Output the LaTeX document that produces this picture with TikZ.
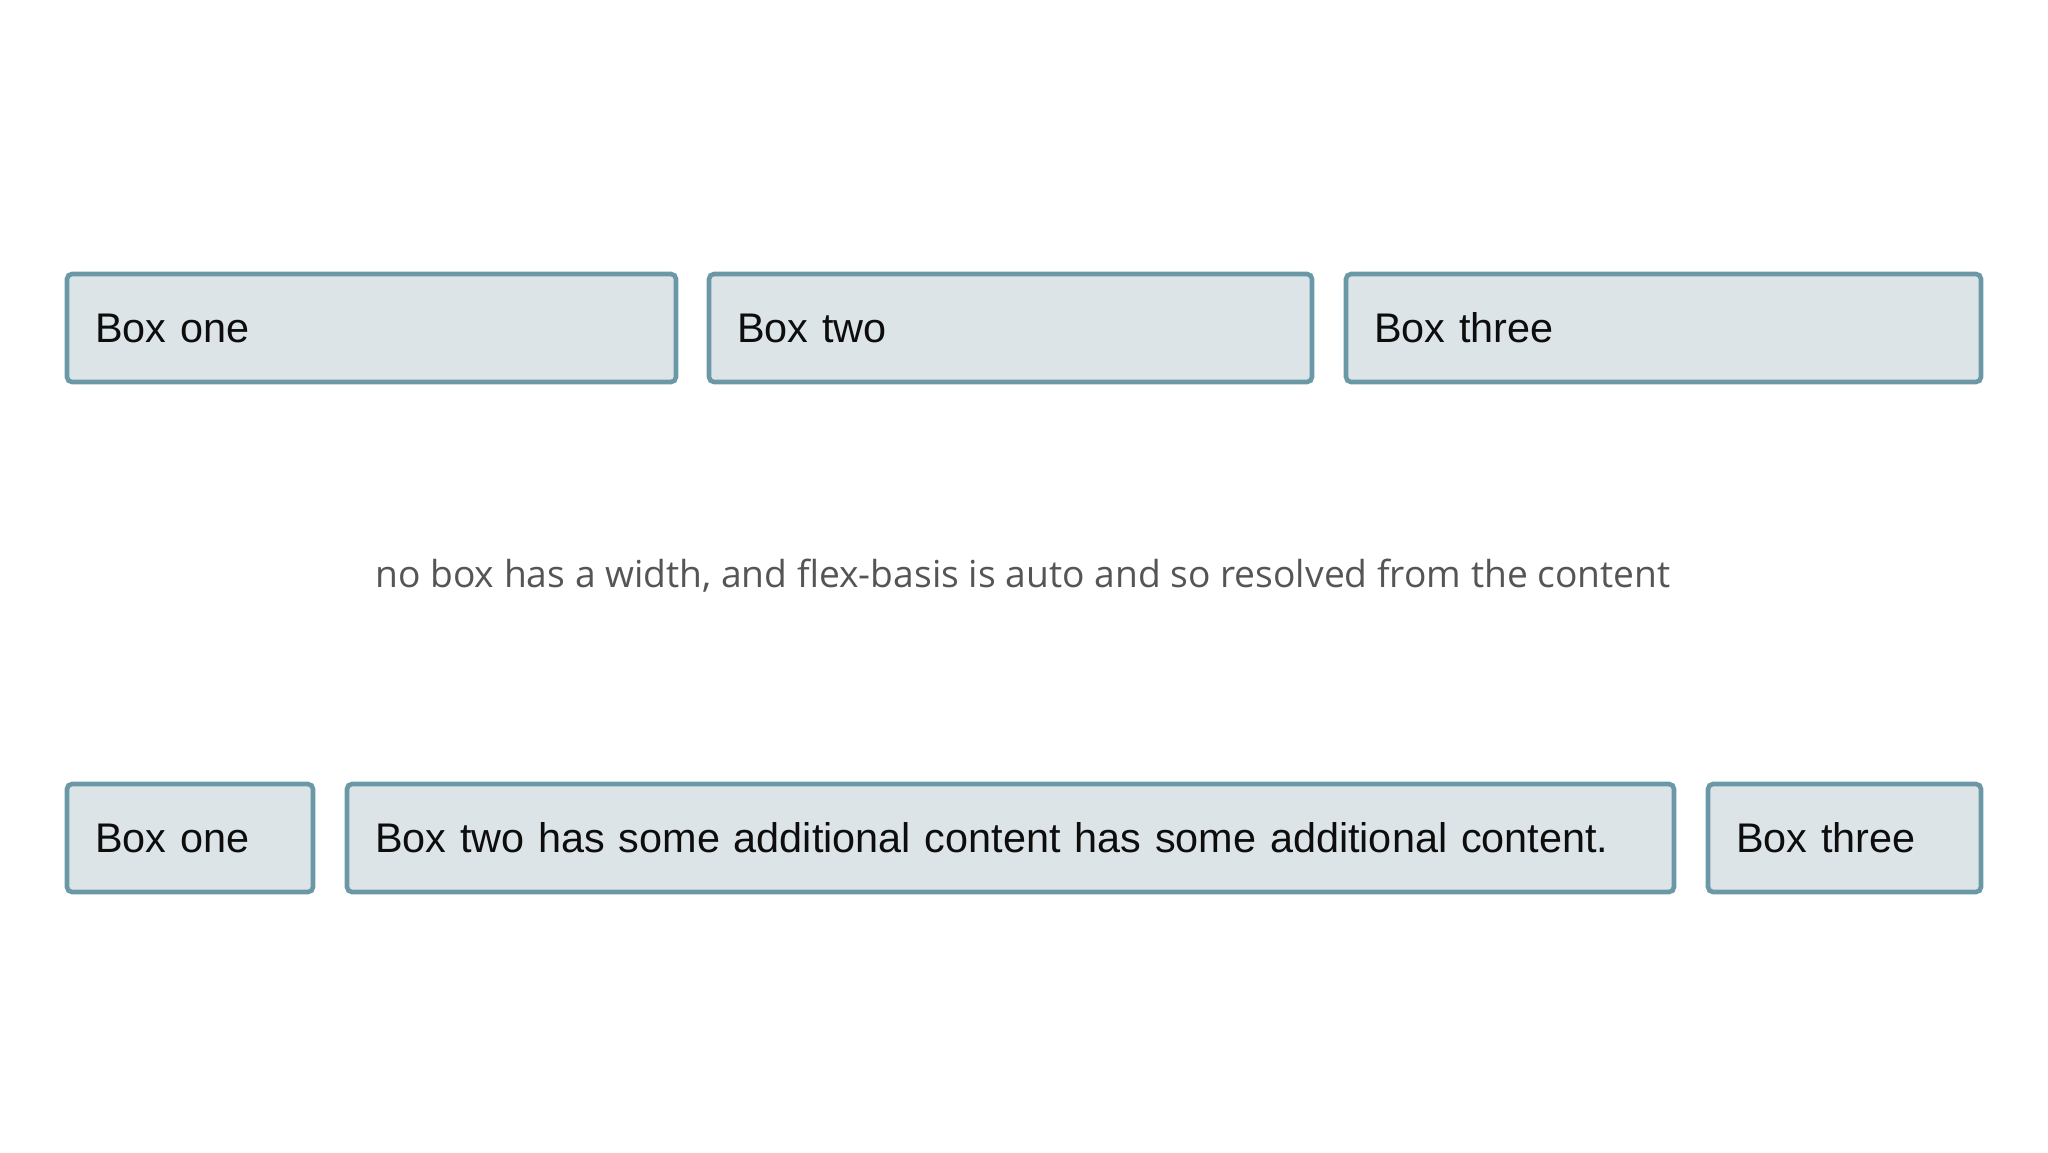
\documentclass[tikz,border=0pt]{standalone}
\usepackage{fontspec}
\setmainfont{Liberation Sans}
\newfontfamily\notefont{Open Sans}
\definecolor{boxfill}{RGB}{220,228,232}
\definecolor{boxline}{RGB}{107,152,166}
\definecolor{notegray}{RGB}{85,85,85}
\begin{document}
\begin{tikzpicture}[
        x=0.5pt, y=-0.5pt,
        flexbox/.style = {draw=boxline, fill=boxfill, line width=2.3pt, rounded corners=2.5pt,
            inner xsep=14pt, inner ysep=0pt, minimum height=54pt, align=left,
            font=\fontsize{20.7pt}{24pt}\selectfont, text=black!95},
        note/.style = {font=\notefont\fontsize{18.6pt}{22pt}\selectfont, text=notegray}]
    \useasboundingbox (0,0) rectangle (2048,1152);
    % first row: three boxes of even content
    \node[flexbox, text width=276.5pt] (topone) at (371.5,328) {Box one};
    \node[flexbox, text width=273.5pt] (toptwo) at (1010.5,328) {Box two};
    \node[flexbox, text width=289.5pt] (topthree) at (1663.5,328) {Box three};
    % caption
    \node[note] (caption) at (1023,576) {no box has a width, and flex-basis is auto and so resolved from the content};
    % second row: box two has more content
    \node[flexbox, text width=95pt] (botone) at (190,838) {Box one};
    \node[flexbox, text width=635.5pt] (bottwo) at (1010.5,838) {Box two has some additional content has some additional content.};
    \node[flexbox, text width=108.5pt] (botthree) at (1844.5,838) {Box three};
\end{tikzpicture}
\end{document}
